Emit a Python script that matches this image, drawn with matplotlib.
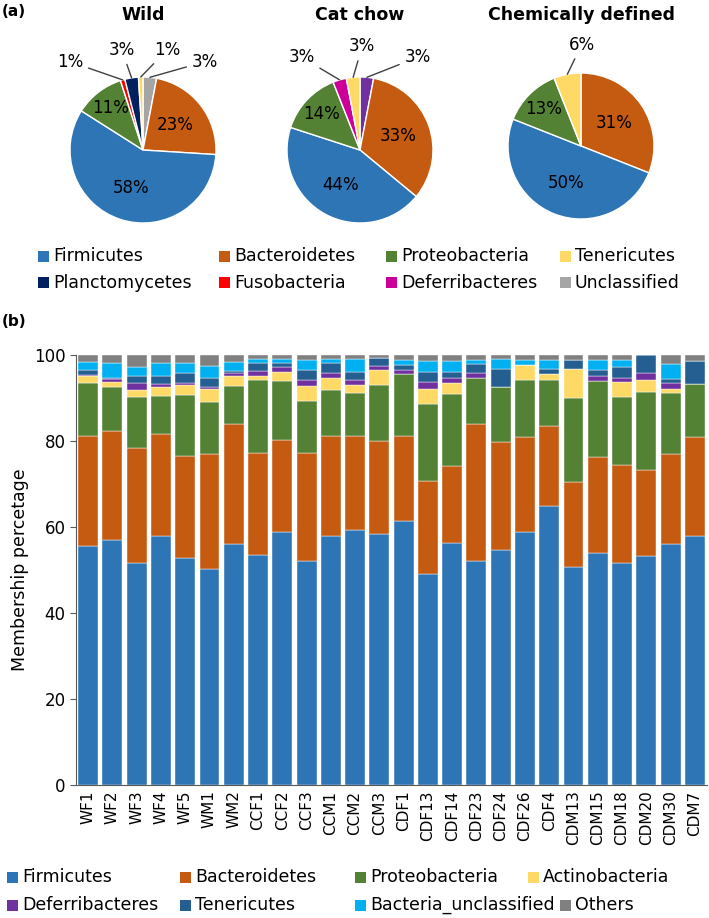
import matplotlib
matplotlib.use('Agg')
import matplotlib.pyplot as plt
import numpy as np
from matplotlib.patches import Rectangle

plt.rcParams['font.family'] = ['DejaVu Sans']

W, H = 709, 918
fig = plt.figure(figsize=(W / 100, H / 100), dpi=100)


def fx(px):
    return px / W


def fy(py):
    return 1 - py / H


# ---------------- data: pies (clockwise from 12 o'clock) ----------------
pie_titles = ['Wild', 'Cat chow', 'Chemically defined']
wild_taxa = ['Unclassified', 'Bacteroidetes', 'Firmicutes', 'Proteobacteria',
             'Fusobacteria', 'Planctomycetes', 'Tenericutes']
wild_pct = [3, 23, 58, 11, 1, 3, 1]
catchow_taxa = ['Other', 'Bacteroidetes', 'Firmicutes', 'Proteobacteria',
                'Deferribacteres', 'Tenericutes']
catchow_pct = [3, 33, 44, 14, 3, 3]
chem_taxa = ['Bacteroidetes', 'Firmicutes', 'Proteobacteria', 'Tenericutes']
chem_pct = [31, 50, 13, 6]

pie_legend = ['Firmicutes', 'Bacteroidetes', 'Proteobacteria', 'Tenericutes',
              'Planctomycetes', 'Fusobacteria', 'Deferribacteres', 'Unclassified']

# ---------------- data: stacked bars ----------------
samples = ['WF1', 'WF2', 'WF3', 'WF4', 'WF5', 'WM1', 'WM2', 'CCF1', 'CCF2', 'CCF3',
           'CCM1', 'CCM2', 'CCM3', 'CDF1', 'CDF13', 'CDF14', 'CDF23', 'CDF24',
           'CDF26', 'CDF4', 'CDM13', 'CDM15', 'CDM18', 'CDM20', 'CDM30', 'CDM7']
firmicutes = [55.6, 56.9, 51.7, 57.9, 52.9, 50.3, 56.1, 53.6, 58.8, 52.2, 57.9, 59.2, 58.4,
              61.4, 49.1, 56.3, 52.0, 54.6, 58.8, 64.8, 50.8, 54.0, 51.7, 53.2, 56.0, 57.9]
bacteroidetes = [25.6, 25.4, 26.6, 23.8, 23.6, 26.6, 27.8, 23.6, 21.4, 25.0, 23.2, 21.9, 21.6,
                 19.7, 21.6, 17.9, 31.9, 25.2, 22.2, 18.7, 19.7, 22.3, 22.7, 20.0, 20.9, 23.1]
proteobacteria = [12.4, 10.3, 12.0, 8.8, 14.2, 12.2, 8.9, 17.0, 13.8, 12.1, 10.7, 10.0, 13.0,
                  14.4, 17.8, 16.7, 10.7, 12.8, 13.3, 10.8, 19.6, 17.7, 15.9, 18.3, 14.2, 12.2]
actinobacteria = [1.6, 1.2, 1.5, 2.1, 2.3, 3.0, 2.4, 1.0, 2.1, 3.5, 2.8, 1.9, 3.5,
                  0.0, 3.7, 2.7, 0.0, 0.0, 3.4, 1.3, 6.6, 0.0, 3.5, 2.8, 1.1, 0.0]
deferribacteres = [0.2, 0.6, 1.8, 0.6, 0.4, 0.4, 0.5, 1.1, 1.0, 1.4, 1.1, 1.2, 0.9,
                   1.0, 1.6, 1.1, 1.1, 0.0, 0.0, 0.0, 0.0, 1.2, 0.8, 1.4, 1.2, 0.0]
tenericutes = [1.1, 0.3, 1.6, 2.0, 2.3, 2.1, 0.6, 1.8, 1.0, 2.3, 2.5, 1.9, 1.8,
               1.2, 2.3, 1.4, 2.1, 4.1, 0.0, 1.1, 2.1, 1.3, 2.7, 4.3, 1.0, 5.4]
bact_unclassified = [1.8, 3.4, 2.1, 2.9, 2.4, 2.9, 2.1, 1.0, 0.9, 2.3, 0.9, 2.9, 0.0,
                     1.1, 2.6, 2.6, 1.0, 2.3, 1.1, 2.1, 0.0, 2.3, 1.5, 0.0, 3.4, 0.0]
others = [1.7, 1.9, 2.7, 1.9, 1.9, 2.5, 1.6, 0.9, 1.0, 1.2, 0.9, 1.0, 0.8,
          1.2, 1.3, 1.3, 1.2, 1.0, 1.2, 1.2, 1.2, 1.2, 1.2, 0.0, 2.2, 1.4]

bar_series = ['Firmicutes', 'Bacteroidetes', 'Proteobacteria', 'Actinobacteria',
              'Deferribacteres', 'Tenericutes', 'Bacteria_unclassified', 'Others']

# ---------------- colours ----------------
pie_colors = {'Firmicutes': '#2E75B6', 'Bacteroidetes': '#C55A11', 'Proteobacteria': '#548235',
              'Tenericutes': '#FFD966', 'Planctomycetes': '#002060', 'Fusobacteria': '#FF0000',
              'Deferribacteres': '#CC0099', 'Unclassified': '#A5A5A5', 'Other': '#7030A0'}
bar_colors = ['#2E75B6', '#C55A11', '#548235', '#FFD966',
              '#7030A0', '#255E91', '#00B0F0', '#808080']


def legend_item(x, y, color, name, size):
    # square marker + label, positions in pixels from the top-left corner
    fig.add_artist(Rectangle((fx(x), fy(y + 5.5)), 11 / W, 11 / H,
                             transform=fig.transFigure, facecolor=color, edgecolor='none'))
    fig.text(fx(x + 15), fy(y), name, fontsize=size, va='center', ha='left')


# ---------------- (a) pies ----------------
pies = [(wild_taxa, wild_pct), (catchow_taxa, catchow_pct), (chem_taxa, chem_pct)]
centers = [(143, 150), (360, 150), (581, 146)]
radius_px = 73
k = 1.6
# outside label spots (radius units) for the small slices
outside = [
    {0: (0.85, 1.21), 4: (-1.0, 1.21), 5: (-0.29, 1.37), 6: (0.33, 1.37)},
    {0: (0.79, 1.27), 4: (-0.80, 1.27), 5: (0.03, 1.42)},
    {3: (0.01, 1.39)},
]

for i, (taxa, pct) in enumerate(pies):
    cx, cy = centers[i]
    side = 2 * k * radius_px
    ax = fig.add_axes([fx(cx - side / 2), fy(cy + side / 2), side / W, side / H])
    wedges, _ = ax.pie(pct, colors=[pie_colors[t] for t in taxa], startangle=90,
                       counterclock=False, radius=1,
                       wedgeprops=dict(edgecolor='white', linewidth=1))
    ax.set_xlim(-k, k)
    ax.set_ylim(-k, k)
    ax.set_aspect('equal')
    ax.axis('off')
    for j, w in enumerate(wedges):
        ang = np.deg2rad((w.theta1 + w.theta2) / 2)
        if j in outside[i]:
            tx, ty = outside[i][j]
            ax.annotate('%d%%' % pct[j], xy=(np.cos(ang), np.sin(ang)), xytext=(tx, ty),
                        ha='center', va='center', fontsize=12, annotation_clip=False,
                        arrowprops=dict(arrowstyle='-', color='#404040', lw=1,
                                        shrinkA=2, shrinkB=0))
        else:
            d = 0.72 if pct[j] < 15 else 0.55
            ax.text(d * np.cos(ang), d * np.sin(ang), '%d%%' % pct[j],
                    ha='center', va='center', fontsize=12)
    fig.text(fx(cx), fy(15), pie_titles[i], ha='center', va='center',
             fontsize=12.5, fontweight='bold')

fig.text(fx(2), fy(12), '(a)', fontsize=11, fontweight='bold', va='center')
fig.text(fx(2), fy(322), '(b)', fontsize=11, fontweight='bold', va='center')

pie_leg_x = [38, 219, 386, 560, 38, 219, 386, 560]
pie_leg_y = [256, 256, 256, 256, 283, 283, 283, 283]
for name, lx, ly in zip(pie_legend, pie_leg_x, pie_leg_y):
    legend_item(lx, ly, pie_colors[name], name, 12.5)

# ---------------- (b) stacked bars ----------------
axb = fig.add_axes([fx(76), fy(785), (707 - 76) / W, (785 - 355) / H])
series = [firmicutes, bacteroidetes, proteobacteria, actinobacteria,
          deferribacteres, tenericutes, bact_unclassified, others]
x = np.arange(len(samples))
bottom = np.zeros(len(samples))
for vals, col in zip(series, bar_colors):
    vals = np.array(vals)
    axb.bar(x, vals, bottom=bottom, width=0.82, color=col, edgecolor='white', linewidth=0.3)
    bottom += vals

axb.set_xlim(-0.5, len(samples) - 0.5)
axb.set_ylim(0, 100)
axb.set_yticks([0, 20, 40, 60, 80, 100])
axb.set_xticks(x)
axb.set_xticklabels(samples, rotation=90, fontsize=11)
axb.tick_params(axis='y', labelsize=12, length=4, color='#595959')
axb.tick_params(axis='x', length=0, pad=4)
axb.set_ylabel('Membership percetage', fontsize=12.5)
axb.yaxis.set_label_coords(-0.075, 0.5)
for s in ['top', 'right']:
    axb.spines[s].set_visible(False)
axb.spines['left'].set_color('#595959')
axb.spines['bottom'].set_color('#595959')

bar_leg_x = [7, 180, 355, 528, 7, 180, 355, 560]
bar_leg_y = [877, 877, 877, 877, 905, 905, 905, 905]
for name, col, lx, ly in zip(bar_series, bar_colors, bar_leg_x, bar_leg_y):
    legend_item(lx, ly, col, name, 12.5)

fig.savefig('out.png', dpi=100)
